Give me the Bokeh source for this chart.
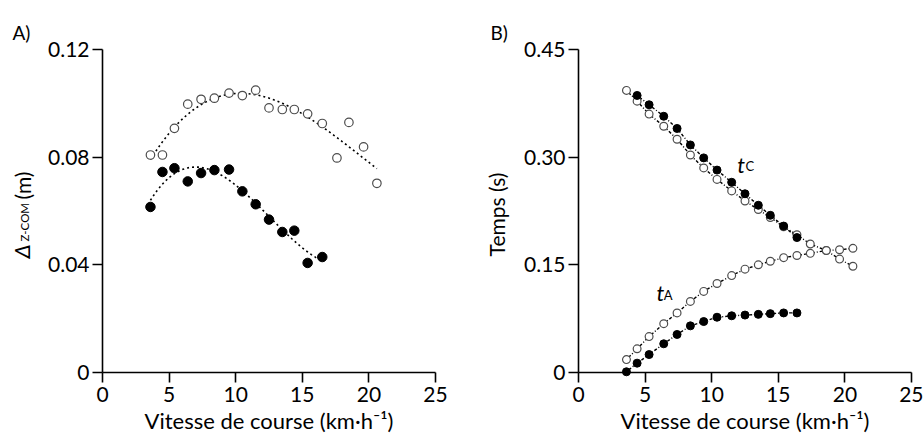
import math
import numpy as np
from bokeh.plotting import figure
from bokeh.layouts import row
from bokeh.models import Label, FixedTicker, Range1d, LinearAxis
from bokeh.embed import file_html
from bokeh.resources import INLINE

NAN = float("nan")

# ---------------- Panel A data ----------------
speed_open_a = [3.6, 4.5, 5.4, 6.4, 7.4, 8.4, 9.5, 10.5, 11.5, 12.5, 13.5, 14.4, 15.4, 16.5, 17.6, 18.5, 19.6, 20.6]
dz_open = [0.0808, 0.0808, 0.0907, 0.0997, 0.1015, 0.1019, 0.1038, 0.1029, 0.1049, 0.0983,
           0.0977, 0.0977, 0.0961, 0.0925, 0.0797, 0.0929, 0.0838, 0.0703]
speed_fill_a = [3.6, 4.5, 5.4, 6.4, 7.4, 8.4, 9.5, 10.5, 11.5, 12.5, 13.5, 14.4, 15.4, 16.5]
dz_fill = [0.0615, 0.0745, 0.0759, 0.0710, 0.0741, 0.0752, 0.0754, 0.0673, 0.0625, 0.0568,
           0.0522, 0.0527, 0.0407, 0.0429]

# ---------------- Panel B data ----------------
speed_open_b = [3.6, 4.4, 5.3, 6.4, 7.4, 8.4, 9.4, 10.4, 11.5, 12.5, 13.5, 14.4, 15.4, 16.4, 17.4, 18.6, 19.6, 20.6]
tc_open = [0.393, 0.378, 0.360, 0.343, 0.325, 0.303, 0.285, 0.269, 0.253, 0.239,
           0.227, 0.216, 0.203, 0.192, 0.179, 0.170, 0.158, 0.148]
ta_open = [0.018, 0.033, 0.050, 0.068, 0.083, 0.099, 0.113, 0.124, 0.135, 0.144,
           0.150, 0.155, 0.160, 0.163, 0.166, 0.170, 0.171, 0.173]
speed_fill_b = [3.6, 4.4, 5.3, 6.4, 7.4, 8.4, 9.4, 10.4, 11.5, 12.5, 13.5, 14.4, 15.4, 16.4]
tc_fill = [NAN, 0.386, 0.373, 0.357, 0.340, 0.317, 0.299, 0.282, 0.265, 0.249,
           0.233, 0.219, 0.204, 0.188]
ta_fill = [0.001, 0.013, 0.025, 0.040, 0.053, 0.065, 0.071, 0.077, 0.079, 0.080,
           0.081, 0.082, 0.083, 0.083]

# ---------------- ticks / texts ----------------
x_ticks = [0, 5, 10, 15, 20, 25]
ya_ticks = [0, 0.04, 0.08, 0.12]
ya_labels = ["0", "0.04", "0.08", "0.12"]
yb_ticks = [0, 0.15, 0.30, 0.45]
yb_labels = ["0", "0.15", "0.30", "0.45"]
x_title = "Vitesse de course (km·h⁻¹)"
yb_title = "Temps (s)"

FONT = "Lato"
OPEN_LINE = "#4d4d4d"
FS = "21px"

# layout constants (pixels, canvas of each figure)
W_A, W_B, H = 460, 463, 438
A_AXIS_X, A_X_END = 102, 435      # canvas x of x=0 and x=25 in panel A
B_AXIS_X, B_X_END = 118, 451      # same for panel B
TOP, Y0 = 49, 372                 # canvas y of the top tick and of y=0


def cubic_fit(xs, ys):
    c = np.polyfit(xs, ys, 3)
    xx = np.linspace(min(xs), max(xs), 80)
    return xx, np.polyval(c, xx)


def style_axis(ax):
    ax.axis_line_width = 1.6
    ax.axis_line_color = "black"
    ax.major_tick_line_width = 1.6
    ax.major_tick_line_color = "black"
    ax.major_tick_out = 10
    ax.major_tick_in = 0
    ax.minor_tick_line_color = None
    ax.major_label_text_font = FONT
    ax.major_label_text_font_size = FS
    ax.major_label_text_color = "black"


def make_panel(width, axis_x, x_end, yticks, ylabels):
    """Figure whose frame fills the whole canvas; axes drawn at x=0 / y=0."""
    x_max = x_ticks[-1]
    y_max = yticks[-1]
    sx = (x_end - axis_x) / x_max
    sy = (Y0 - TOP) / y_max
    p = figure(width=width, height=H, output_backend="svg", toolbar_location=None, title=None,
               x_range=Range1d(-axis_x / sx, x_max + (width - x_end) / sx),
               y_range=Range1d(-(H - Y0) / sy, y_max + TOP / sy),
               x_axis_location=None, y_axis_location=None, min_border=0)
    p.xgrid.visible = False
    p.ygrid.visible = False
    p.outline_line_color = None
    xa = LinearAxis(fixed_location=0, bounds=(0, x_max), ticker=FixedTicker(ticks=x_ticks))
    style_axis(xa)
    xa.major_label_standoff = 4
    p.add_layout(xa, "below")
    ya = LinearAxis(fixed_location=0, bounds=(0, y_max), ticker=FixedTicker(ticks=yticks))
    style_axis(ya)
    ya.major_label_overrides = {t: l for t, l in zip(yticks, ylabels)}
    ya.major_label_standoff = 3
    p.add_layout(ya, "left")
    return p


def canvas_label(p, txt, cx, cy, fs, style="normal", angle=0.0, align="left", baseline="alphabetic"):
    p.add_layout(Label(x=cx, y=cy, x_units="canvas", y_units="canvas", text=txt,
                       angle=angle, text_font=FONT, text_font_size=fs,
                       text_font_style=style, text_align=align, text_baseline=baseline,
                       text_color="black"))


# ---------------- Figure A ----------------
pa = make_panel(W_A, A_AXIS_X, A_X_END, ya_ticks, ya_labels)

fx, fy = cubic_fit(speed_open_a, dz_open)
pa.line(fx, fy, line_color="black", line_dash="2 3", line_width=1.6)
fx2, fy2 = cubic_fit(speed_fill_a, dz_fill)
pa.line(fx2, fy2, line_color="black", line_dash="2 3", line_width=1.6)

pa.scatter(speed_open_a, dz_open, size=8.5, fill_color="white", line_color=OPEN_LINE, line_width=1.2)
pa.scatter(speed_fill_a, dz_fill, size=9.5, fill_color="black", line_color="black")

canvas_label(pa, "Δ", 20.5, 258, "22px", "italic", math.pi / 2, "left", "middle")
canvas_label(pa, "Z-COM", 24, 241, "11.5px", "normal", math.pi / 2, "left", "middle")
canvas_label(pa, "(m)", 21.5, 199, FS, "normal", math.pi / 2, "left", "middle")
canvas_label(pa, x_title, (A_AXIS_X + A_X_END) / 2, 420, "22px", align="center", baseline="middle")
canvas_label(pa, "A)", 12, 32, "19px")

# ---------------- Figure B ----------------
pb = make_panel(W_B, B_AXIS_X, B_X_END, yb_ticks, yb_labels)

DASH = "1 2 3 2"
for xs, ys in ((speed_open_b, tc_open), (speed_open_b, ta_open),
               (speed_fill_b, tc_fill), (speed_fill_b, ta_fill)):
    pb.line(xs, ys, line_color="black", line_dash=DASH, line_width=1.4)

pb.scatter(speed_open_b, tc_open, size=7.8, fill_color="white", line_color=OPEN_LINE, line_width=1.2)
pb.scatter(speed_open_b, ta_open, size=7.8, fill_color="white", line_color=OPEN_LINE, line_width=1.2)
pb.scatter(speed_fill_b, tc_fill, size=8, fill_color="black", line_color="black")
pb.scatter(speed_fill_b, ta_fill, size=8, fill_color="black", line_color="black")

pb.add_layout(Label(x=11.92, y=0.2896, text="t", text_font=FONT, text_font_size="22px",
                    text_font_style="italic", text_align="left", text_baseline="alphabetic",
                    text_color="black"))
pb.add_layout(Label(x=12.54, y=0.288, text="C", text_font=FONT, text_font_size="13px",
                    text_align="left", text_baseline="alphabetic", text_color="black"))
pb.add_layout(Label(x=5.85, y=0.1116, text="t", text_font=FONT, text_font_size="22px",
                    text_font_style="italic", text_align="left", text_baseline="alphabetic",
                    text_color="black"))
pb.add_layout(Label(x=6.4, y=0.1083, text="A", text_font=FONT, text_font_size="13px",
                    text_align="left", text_baseline="alphabetic", text_color="black"))

canvas_label(pb, yb_title, 36, 214, FS, "normal", math.pi / 2, "center", "middle")
canvas_label(pb, x_title, (B_AXIS_X + B_X_END) / 2, 420, "22px", align="center", baseline="middle")
canvas_label(pb, "B)", 30, 32, "19px")

layout = row(pa, pb)
open("out.html", "w").write(file_html(layout, INLINE))
